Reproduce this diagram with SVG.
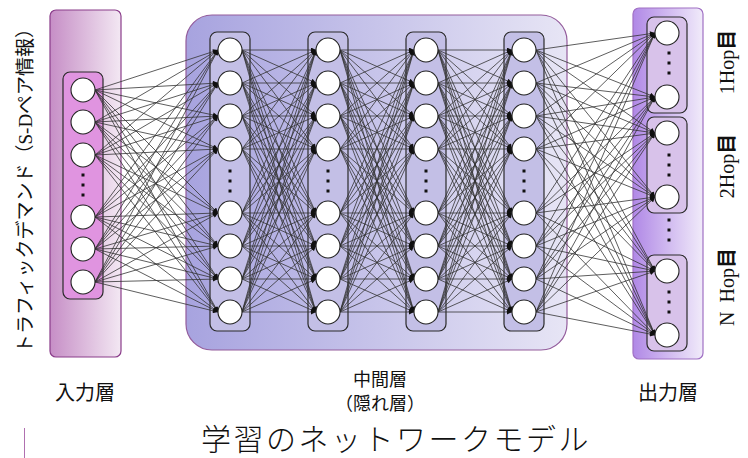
<svg xmlns="http://www.w3.org/2000/svg" xmlns:xlink="http://www.w3.org/1999/xlink" width="748" height="458" viewBox="0 0 748 458">
  <defs>
    <linearGradient id="gIn" x1="0" y1="0" x2="1" y2="0">
      <stop offset="0" stop-color="#c68ec6"/>
      <stop offset="1" stop-color="#f3e8f3"/>
    </linearGradient>
    <linearGradient id="gHid" x1="0" y1="0" x2="1" y2="0">
      <stop offset="0" stop-color="#a7a3df"/>
      <stop offset="1" stop-color="#e7e5f5"/>
    </linearGradient>
    <linearGradient id="gOut" x1="0" y1="0" x2="1" y2="0">
      <stop offset="0" stop-color="#b088e6"/>
      <stop offset="1" stop-color="#f1ebfa"/>
    </linearGradient>
    <marker id="ah" viewBox="0 0 10 10" refX="10" refY="5" markerUnits="userSpaceOnUse" markerWidth="6" markerHeight="5" orient="auto">
      <path d="M0 0L10 5L0 10z" fill="#111"/>
    </marker>
  </defs>
  <style>
    .panel { stroke-width: 1.2; }
    .col { stroke: #2a2a2a; stroke-width: 1.2; }
    .node { fill: #fff; stroke: #222; stroke-width: 1.1; }
    .dot { fill: #111; }
    .edges path { fill: none; stroke: #333; stroke-width: 0.8; marker-end: url(#ah); }
    .lbl { font-family: "Noto Sans CJK JP", "Noto Sans", sans-serif; fill: #111; }
    .hop { font-family: "Liberation Serif", "Noto Sans CJK JP", serif; fill: #111; font-size: 20px; }
    .hop .k { font-family: "Noto Sans CJK JP", sans-serif; font-weight: bold; }
  </style>

  <!-- layer backgrounds -->
  <g id="panels">
    <rect class="panel" x="50" y="10" width="71" height="347" rx="6" fill="url(#gIn)" stroke="#8a3c8a"/>
    <rect class="col" x="63" y="72" width="40" height="227" rx="7" fill="#e094e0"/>
    <rect class="panel" x="186" y="15" width="381" height="335" rx="26" fill="url(#gHid)" stroke="#935c9c"/>
    <rect class="col" x="210" y="32" width="40" height="299" rx="7" fill="#c3bfe6"/>
    <rect class="col" x="308" y="32" width="40" height="299" rx="7" fill="#c3bfe6"/>
    <rect class="col" x="406" y="32" width="40" height="299" rx="7" fill="#c3bfe6"/>
    <rect class="col" x="504" y="32" width="40" height="299" rx="7" fill="#c3bfe6"/>
    <rect class="panel" x="633" y="8" width="70" height="351" rx="6" fill="url(#gOut)" stroke="#a070c4"/>
    <rect class="col" x="647" y="17" width="40" height="96" rx="7" fill="#d8c2ea"/>
    <rect class="col" x="647" y="117" width="40" height="96" rx="7" fill="#d8c2ea"/>
    <rect class="col" x="647" y="255" width="40" height="96" rx="7" fill="#d8c2ea"/>
  </g>

  <!-- links between two neighbouring hidden columns, reused three times -->
  <defs>
    <g id="h2h" class="edges">
      <path d="M242 50L316 50"/><path d="M242 50L316 83"/><path d="M242 50L316 116"/><path d="M242 50L316 149"/><path d="M242 50L316 213"/><path d="M242 50L316 246"/><path d="M242 50L316 279"/><path d="M242 50L316 312"/>
      <path d="M242 83L316 50"/><path d="M242 83L316 83"/><path d="M242 83L316 116"/><path d="M242 83L316 149"/><path d="M242 83L316 213"/><path d="M242 83L316 246"/><path d="M242 83L316 279"/><path d="M242 83L316 312"/>
      <path d="M242 116L316 50"/><path d="M242 116L316 83"/><path d="M242 116L316 116"/><path d="M242 116L316 149"/><path d="M242 116L316 213"/><path d="M242 116L316 246"/><path d="M242 116L316 279"/><path d="M242 116L316 312"/>
      <path d="M242 149L316 50"/><path d="M242 149L316 83"/><path d="M242 149L316 116"/><path d="M242 149L316 149"/><path d="M242 149L316 213"/><path d="M242 149L316 246"/><path d="M242 149L316 279"/><path d="M242 149L316 312"/>
      <path d="M242 213L316 50"/><path d="M242 213L316 83"/><path d="M242 213L316 116"/><path d="M242 213L316 149"/><path d="M242 213L316 213"/><path d="M242 213L316 246"/><path d="M242 213L316 279"/><path d="M242 213L316 312"/>
      <path d="M242 246L316 50"/><path d="M242 246L316 83"/><path d="M242 246L316 116"/><path d="M242 246L316 149"/><path d="M242 246L316 213"/><path d="M242 246L316 246"/><path d="M242 246L316 279"/><path d="M242 246L316 312"/>
      <path d="M242 279L316 50"/><path d="M242 279L316 83"/><path d="M242 279L316 116"/><path d="M242 279L316 149"/><path d="M242 279L316 213"/><path d="M242 279L316 246"/><path d="M242 279L316 279"/><path d="M242 279L316 312"/>
      <path d="M242 312L316 50"/><path d="M242 312L316 83"/><path d="M242 312L316 116"/><path d="M242 312L316 149"/><path d="M242 312L316 213"/><path d="M242 312L316 246"/><path d="M242 312L316 279"/><path d="M242 312L316 312"/>
    </g>
  </defs>
  <g id="connectors" class="edges">
    <g id="in-h1">
      <path d="M95 90L218 50"/><path d="M95 90L218 83"/><path d="M95 90L218 116"/><path d="M95 90L218 149"/><path d="M95 90L218 213"/><path d="M95 90L218 246"/><path d="M95 90L218 279"/><path d="M95 90L218 312"/>
      <path d="M95 122L218 50"/><path d="M95 122L218 83"/><path d="M95 122L218 116"/><path d="M95 122L218 149"/><path d="M95 122L218 213"/><path d="M95 122L218 246"/><path d="M95 122L218 279"/><path d="M95 122L218 312"/>
      <path d="M95 155L218 50"/><path d="M95 155L218 83"/><path d="M95 155L218 116"/><path d="M95 155L218 149"/><path d="M95 155L218 213"/><path d="M95 155L218 246"/><path d="M95 155L218 279"/><path d="M95 155L218 312"/>
      <path d="M95 217L218 50"/><path d="M95 217L218 83"/><path d="M95 217L218 116"/><path d="M95 217L218 149"/><path d="M95 217L218 213"/><path d="M95 217L218 246"/><path d="M95 217L218 279"/><path d="M95 217L218 312"/>
      <path d="M95 249L218 50"/><path d="M95 249L218 83"/><path d="M95 249L218 116"/><path d="M95 249L218 149"/><path d="M95 249L218 213"/><path d="M95 249L218 246"/><path d="M95 249L218 279"/><path d="M95 249L218 312"/>
      <path d="M95 282L218 50"/><path d="M95 282L218 83"/><path d="M95 282L218 116"/><path d="M95 282L218 149"/><path d="M95 282L218 213"/><path d="M95 282L218 246"/><path d="M95 282L218 279"/><path d="M95 282L218 312"/>
    </g>
    <use id="h1-h2" xlink:href="#h2h"/>
    <use id="h2-h3" xlink:href="#h2h" transform="translate(98 0)"/>
    <use id="h3-h4" xlink:href="#h2h" transform="translate(196 0)"/>
    <g id="h4-out">
      <path d="M536 50L655 33"/><path d="M536 50L655 97"/><path d="M536 50L655 133"/><path d="M536 50L655 197"/><path d="M536 50L655 271"/><path d="M536 50L655 335"/>
      <path d="M536 83L655 33"/><path d="M536 83L655 97"/><path d="M536 83L655 133"/><path d="M536 83L655 197"/><path d="M536 83L655 271"/><path d="M536 83L655 335"/>
      <path d="M536 116L655 33"/><path d="M536 116L655 97"/><path d="M536 116L655 133"/><path d="M536 116L655 197"/><path d="M536 116L655 271"/><path d="M536 116L655 335"/>
      <path d="M536 149L655 33"/><path d="M536 149L655 97"/><path d="M536 149L655 133"/><path d="M536 149L655 197"/><path d="M536 149L655 271"/><path d="M536 149L655 335"/>
      <path d="M536 213L655 33"/><path d="M536 213L655 97"/><path d="M536 213L655 133"/><path d="M536 213L655 197"/><path d="M536 213L655 271"/><path d="M536 213L655 335"/>
      <path d="M536 246L655 33"/><path d="M536 246L655 97"/><path d="M536 246L655 133"/><path d="M536 246L655 197"/><path d="M536 246L655 271"/><path d="M536 246L655 335"/>
      <path d="M536 279L655 33"/><path d="M536 279L655 97"/><path d="M536 279L655 133"/><path d="M536 279L655 197"/><path d="M536 279L655 271"/><path d="M536 279L655 335"/>
      <path d="M536 312L655 33"/><path d="M536 312L655 97"/><path d="M536 312L655 133"/><path d="M536 312L655 197"/><path d="M536 312L655 271"/><path d="M536 312L655 335"/>
    </g>
  </g>

  <!-- input layer nodes -->
  <g id="input-layer">
    <circle id="in1" class="node" cx="83" cy="90" r="12"/>
    <circle id="in2" class="node" cx="83" cy="122" r="12"/>
    <circle id="in3" class="node" cx="83" cy="155" r="12"/>
    <rect class="dot" x="81.5" y="173.5" width="3" height="3"/>
    <rect class="dot" x="81.5" y="183.5" width="3" height="3"/>
    <rect class="dot" x="81.5" y="193.5" width="3" height="3"/>
    <circle id="in4" class="node" cx="83" cy="217" r="12"/>
    <circle id="in5" class="node" cx="83" cy="249" r="12"/>
    <circle id="in6" class="node" cx="83" cy="282" r="12"/>
  </g>

  <!-- hidden layer columns -->
  <g id="hidden-1">
    <circle class="node" cx="230" cy="50" r="12"/><circle class="node" cx="230" cy="83" r="12"/>
    <circle class="node" cx="230" cy="116" r="12"/><circle class="node" cx="230" cy="149" r="12"/>
    <rect class="dot" x="228.5" y="169.5" width="3" height="3"/><rect class="dot" x="228.5" y="179.5" width="3" height="3"/><rect class="dot" x="228.5" y="189.5" width="3" height="3"/>
    <circle class="node" cx="230" cy="213" r="12"/><circle class="node" cx="230" cy="246" r="12"/>
    <circle class="node" cx="230" cy="279" r="12"/><circle class="node" cx="230" cy="312" r="12"/>
  </g>
  <g id="hidden-2">
    <circle class="node" cx="328" cy="50" r="12"/><circle class="node" cx="328" cy="83" r="12"/>
    <circle class="node" cx="328" cy="116" r="12"/><circle class="node" cx="328" cy="149" r="12"/>
    <rect class="dot" x="326.5" y="169.5" width="3" height="3"/><rect class="dot" x="326.5" y="179.5" width="3" height="3"/><rect class="dot" x="326.5" y="189.5" width="3" height="3"/>
    <circle class="node" cx="328" cy="213" r="12"/><circle class="node" cx="328" cy="246" r="12"/>
    <circle class="node" cx="328" cy="279" r="12"/><circle class="node" cx="328" cy="312" r="12"/>
  </g>
  <g id="hidden-3">
    <circle class="node" cx="426" cy="50" r="12"/><circle class="node" cx="426" cy="83" r="12"/>
    <circle class="node" cx="426" cy="116" r="12"/><circle class="node" cx="426" cy="149" r="12"/>
    <rect class="dot" x="424.5" y="169.5" width="3" height="3"/><rect class="dot" x="424.5" y="179.5" width="3" height="3"/><rect class="dot" x="424.5" y="189.5" width="3" height="3"/>
    <circle class="node" cx="426" cy="213" r="12"/><circle class="node" cx="426" cy="246" r="12"/>
    <circle class="node" cx="426" cy="279" r="12"/><circle class="node" cx="426" cy="312" r="12"/>
  </g>
  <g id="hidden-4">
    <circle class="node" cx="524" cy="50" r="12"/><circle class="node" cx="524" cy="83" r="12"/>
    <circle class="node" cx="524" cy="116" r="12"/><circle class="node" cx="524" cy="149" r="12"/>
    <rect class="dot" x="522.5" y="169.5" width="3" height="3"/><rect class="dot" x="522.5" y="179.5" width="3" height="3"/><rect class="dot" x="522.5" y="189.5" width="3" height="3"/>
    <circle class="node" cx="524" cy="213" r="12"/><circle class="node" cx="524" cy="246" r="12"/>
    <circle class="node" cx="524" cy="279" r="12"/><circle class="node" cx="524" cy="312" r="12"/>
  </g>

  <!-- output layer, grouped per hop -->
  <g id="out-hop1">
    <circle class="node" cx="667" cy="33" r="12"/>
    <rect class="dot" x="667.5" y="51.5" width="3" height="3"/><rect class="dot" x="667.5" y="61.5" width="3" height="3"/><rect class="dot" x="667.5" y="71.5" width="3" height="3"/>
    <circle class="node" cx="667" cy="97" r="12"/>
  </g>
  <g id="out-hop2">
    <circle class="node" cx="667" cy="133" r="12"/>
    <rect class="dot" x="667.5" y="153.5" width="3" height="3"/><rect class="dot" x="667.5" y="163.5" width="3" height="3"/><rect class="dot" x="667.5" y="173.5" width="3" height="3"/>
    <circle class="node" cx="667" cy="197" r="12"/>
  </g>
  <g id="out-gap">
    <rect class="dot" x="667.5" y="218.5" width="3" height="3"/><rect class="dot" x="667.5" y="228.5" width="3" height="3"/><rect class="dot" x="667.5" y="238.5" width="3" height="3"/>
  </g>
  <g id="out-hopN">
    <circle class="node" cx="667" cy="271" r="12"/>
    <rect class="dot" x="667.5" y="290.5" width="3" height="3"/><rect class="dot" x="667.5" y="300.5" width="3" height="3"/><rect class="dot" x="667.5" y="310.5" width="3" height="3"/>
    <circle class="node" cx="667" cy="335" r="12"/>
  </g>

  <!-- labels -->
  <g id="labels">
    <text class="lbl" font-size="19" text-anchor="middle" transform="translate(32 186) rotate(-90)">トラフィックデマンド（<tspan font-family="Liberation Serif, serif">S-D</tspan>ペア情報）</text>
    <text class="hop" text-anchor="middle" transform="translate(734 62) rotate(-90)">1Hop<tspan class="k">目</tspan></text>
    <text class="hop" text-anchor="middle" transform="translate(734 166) rotate(-90)">2Hop<tspan class="k">目</tspan></text>
    <text class="hop" text-anchor="middle" transform="translate(734 287) rotate(-90)">N <tspan dx="4">Hop</tspan><tspan class="k">目</tspan></text>
    <text class="lbl" font-size="20" x="85" y="400" text-anchor="middle">入力層</text>
    <text class="lbl" font-size="18" text-anchor="middle"><tspan x="380" y="386">中間層</tspan><tspan x="380" y="410">（隠れ層）</tspan></text>
    <text class="lbl" font-size="20" x="668" y="400" text-anchor="middle">出力層</text>
    <text class="lbl" font-size="30" font-weight="300" letter-spacing="2.5" x="396" y="450" text-anchor="middle">学習のネットワークモデル</text>
  </g>
  <line x1="24.5" y1="428" x2="24.5" y2="458" stroke="#b070b0" stroke-width="1"/>
</svg>
